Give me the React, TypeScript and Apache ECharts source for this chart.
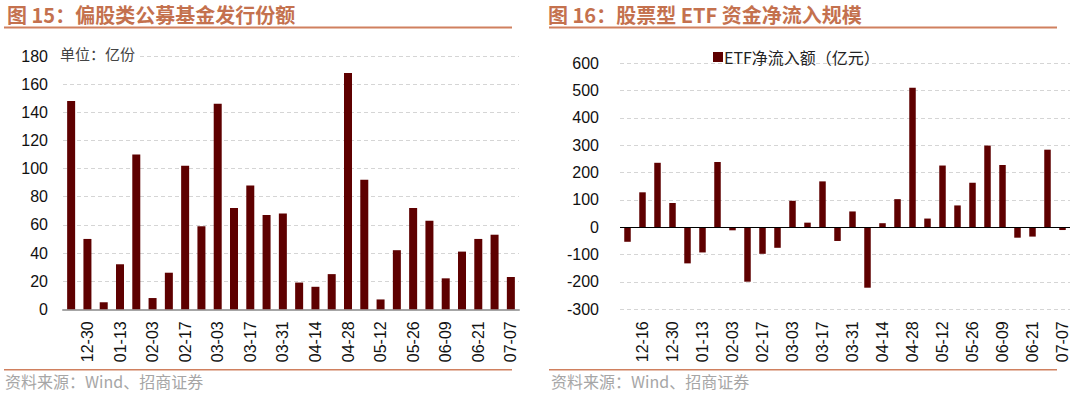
import React, { useEffect, useRef } from "react";
import * as echarts from "echarts";

// 图15 偏股类公募基金发行份额（亿份）
const fundTicks = ["12-30", "01-13", "02-03", "02-17", "03-03", "03-17", "03-31", "04-14", "04-28", "05-12", "05-26", "06-09", "06-21", "07-07"];
const fundValues = [148, 50, 5, 32, 110, 8, 26, 102, 59, 146, 72, 88, 67, 68, 19, 16, 25, 168, 92, 7, 42, 72, 63, 22, 41, 50, 53, 23];

// 图16 股票型ETF资金净流入规模（亿元）
const etfTicks = ["12-16", "12-30", "01-13", "02-03", "02-17", "03-03", "03-17", "03-31", "04-14", "04-28", "05-12", "05-26", "06-09", "06-21", "07-07"];
const etfValues = [-53, 128, 236, 89, -132, -92, 239, -11, -199, -97, -75, 97, 17, 168, -50, 58, -221, 15, 103, 511, 32, 226, 80, 163, 299, 228, -38, -34, 284, -10];

const fundYTicks = { min: 0, max: 180, interval: 20 };
const etfYTicks = { min: -300, max: 600, interval: 100 };

// labels sit on every second bar, starting from the second one
const buildCategories = (n: number, ticks: string[]) =>
  Array.from({ length: n }, (_, i) => (i % 2 === 1 ? ticks[(i - 1) / 2] ?? "" : ""));

const fundCategories = buildCategories(fundValues.length, fundTicks);
const etfCategories = buildCategories(etfValues.length, etfTicks);

const BAR = "#5E0000";
const TITLE = "#C4714E";
const RULE = "#D0805F";
const NUM_FONT = "'Liberation Sans', Arial, sans-serif";
const CJK_FONT = "'Noto Sans CJK SC', sans-serif";

export default function App() {
  const ref = useRef<HTMLDivElement>(null);
  useEffect(() => {
    if (!ref.current) return;
    const chart = echarts.init(ref.current, undefined, { renderer: "svg" });
    const xLabel = {
      interval: 0,
      rotate: 90,
      margin: 12,
      fontSize: 16,
      color: "#111",
      fontFamily: NUM_FONT,
    };
    const yLabel = { fontSize: 16, color: "#111", fontFamily: NUM_FONT };
    const split = { show: true, lineStyle: { color: "#D5D5D5", type: [4, 3], width: 1 } };
    chart.setOption({
      animation: false,
      backgroundColor: "#fff",
      grid: [
        { left: 63, top: 56, width: 456, height: 253.3 },
        { left: 620, top: 63.3, width: 450, height: 246 },
      ],
      legend: {
        data: ["ETF净流入额（亿元）"],
        left: 708,
        top: 44,
        icon: "rect",
        itemWidth: 10,
        itemHeight: 10,
        itemGap: 4,
        textStyle: { fontSize: 16, color: "#222", fontFamily: CJK_FONT, padding: [0, 0, 0, -4] },
      },
      xAxis: [
        {
          type: "category",
          gridIndex: 0,
          data: fundCategories,
          axisTick: { show: false },
          axisLine: { show: true, lineStyle: { color: "#A6A6A6", width: 2 } },
          axisLabel: xLabel,
        },
        {
          type: "category",
          gridIndex: 1,
          data: etfCategories,
          axisTick: { show: false },
          axisLine: { show: false, onZero: false },
          axisLabel: xLabel,
        },
      ],
      yAxis: [
        {
          type: "value",
          gridIndex: 0,
          ...fundYTicks,
          axisLine: { show: false },
          axisTick: { show: false },
          axisLabel: { ...yLabel, margin: 15 },
          splitLine: split,
        },
        {
          type: "value",
          gridIndex: 1,
          ...etfYTicks,
          axisLine: { show: false },
          axisTick: { show: false },
          axisLabel: { ...yLabel, margin: 21 },
          splitLine: split,
        },
      ],
      series: [
        {
          name: "偏股类公募基金发行份额",
          type: "bar",
          xAxisIndex: 0,
          yAxisIndex: 0,
          data: fundValues,
          barWidth: 8,
          itemStyle: { color: BAR },
        },
        {
          name: "ETF净流入额（亿元）",
          type: "bar",
          xAxisIndex: 1,
          yAxisIndex: 1,
          data: etfValues,
          barWidth: 6.5,
          itemStyle: { color: BAR },
          markLine: {
            silent: true,
            symbol: "none",
            label: { show: false },
            lineStyle: { color: "#000", width: 1, type: "solid" },
            data: [{ yAxis: 0 }],
          },
        },
      ],
      graphic: [
        { type: "text", left: 7, top: 4, style: { text: "图 15：偏股类公募基金发行份额", fontSize: 20, fontWeight: "bold", fill: TITLE, fontFamily: CJK_FONT } },
        { type: "text", left: 548, top: 4, style: { text: "图 16：股票型 ETF 资金净流入规模", fontSize: 20, fontWeight: "bold", fill: TITLE, fontFamily: CJK_FONT } },
        { type: "rect", shape: { x: 4, y: 26.5, width: 508, height: 2 }, style: { fill: RULE } },
        { type: "rect", shape: { x: 549, y: 26.5, width: 508, height: 2 }, style: { fill: RULE } },
        { type: "rect", shape: { x: 4, y: 369, width: 508, height: 1.5 }, style: { fill: RULE } },
        { type: "rect", shape: { x: 549, y: 369, width: 508, height: 1.5 }, style: { fill: RULE } },
        { type: "text", left: 5, top: 373, style: { text: "资料来源：Wind、招商证券", fontSize: 16, fill: "#A6A6A6", fontFamily: CJK_FONT } },
        { type: "text", left: 551, top: 373, style: { text: "资料来源：Wind、招商证券", fontSize: 16, fill: "#A6A6A6", fontFamily: CJK_FONT } },
        { type: "text", left: 59, top: 46, z: 10, style: { text: "单位：亿份", fontSize: 15, fill: "#444", fontFamily: CJK_FONT, backgroundColor: "#fff", padding: [0, 3, 0, 1] } },
      ],
    });
    return () => chart.dispose();
  }, []);
  return <div ref={ref} style={{ position: "fixed", left: 0, top: 0, width: 1080, height: 402 }} />;
}
